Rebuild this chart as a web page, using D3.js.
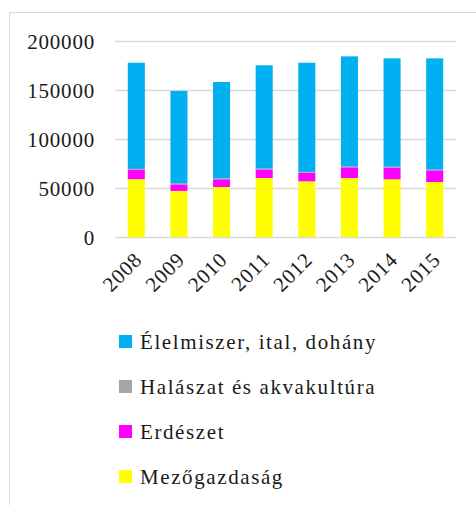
<!DOCTYPE html>
<html>
<head>
<meta charset="utf-8">
<script src="https://cdn.jsdelivr.net/npm/d3@7"></script>
<style>
  body { margin: 0; background: #fff; }
</style>
</head>
<body>
<div id="chart"></div>
<script>
// Data
var years = ["2008", "2009", "2010", "2011", "2012", "2013", "2014", "2015"];
var mezogazdasag = [59000, 47000, 51000, 60200, 56800, 60200, 58900, 56100];
var erdeszet = [9700, 6700, 7900, 8800, 8800, 10900, 12000, 11900];
var halaszat = [800, 800, 800, 800, 800, 800, 800, 800];
var elelmiszer = [108300, 94500, 98500, 105400, 111400, 112400, 110600, 113500];
var yTicks = [0, 50000, 100000, 150000, 200000];

var seriesNames = ["Mezőgazdaság", "Erdészet", "Halászat és akvakultúra", "Élelmiszer, ital, dohány"];
var seriesColors = ["#ffff00", "#ff00ff", "#a5a5a5", "#00b0f0"];
var seriesValues = [mezogazdasag, erdeszet, halaszat, elelmiszer];

var serif = "'Liberation Serif', 'DejaVu Serif', serif";

var svgWidth = 476;
var svgHeight = 505;

var svg = d3.select("#chart")
  .append("svg")
  .attr("width", svgWidth)
  .attr("height", svgHeight);

// Outer frame (only left and top edges are visible)
svg.append("rect")
  .attr("x", 9.5)
  .attr("y", 12.5)
  .attr("width", 600)
  .attr("height", 600)
  .attr("fill", "none")
  .attr("stroke", "#d9d9d9")
  .attr("stroke-width", 1);

// Build a table for the stack
var table = years.map(function(y, i) {
  var row = { year: y };
  seriesNames.forEach(function(name, j) { row[name] = seriesValues[j][i]; });
  return row;
});

var stacked = d3.stack().keys(seriesNames)(table);

var x = d3.scaleBand()
  .domain(years)
  .range([115, 456])
  .paddingInner(0.6)
  .paddingOuter(0.3);

var y = d3.scaleLinear()
  .domain([0, 200000])
  .range([237, 41]);

// Gridlines
svg.append("g")
  .selectAll("line")
  .data(yTicks)
  .enter()
  .append("line")
  .attr("x1", 115)
  .attr("x2", 456)
  .attr("y1", d => Math.round(y(d)) + 0.5)
  .attr("y2", d => Math.round(y(d)) + 0.5)
  .attr("stroke", "#d9d9d9")
  .attr("stroke-width", 1.5);

// Y-axis labels
var leftAxis = d3.axisLeft(y).tickValues(yTicks).tickSize(0).tickPadding(0).tickFormat(d3.format("d"));
var yAxis = svg.append("g")
  .attr("transform", "translate(95,0)")
  .call(leftAxis);
yAxis.attr("font-family", serif);
yAxis.select(".domain").remove();
yAxis.selectAll("text")
  .style("font-family", serif)
  .style("font-size", "21px")
  .style("letter-spacing", "0.8px")
  .attr("fill", "#1a1a1a")
  .attr("dy", "0.35em");

// Bars
svg.append("g")
  .selectAll("g")
  .data(stacked)
  .enter()
  .append("g")
  .attr("fill", (d, i) => seriesColors[i])
  .selectAll("rect")
  .data(d => d)
  .enter()
  .append("rect")
  .attr("x", d => x(d.data.year))
  .attr("width", x.bandwidth())
  .attr("y", d => y(d[1]))
  .attr("height", d => y(d[0]) - y(d[1]));

// X-axis labels
var bottomAxis = d3.axisBottom(x).tickSize(0).tickPadding(0);
var xAxis = svg.append("g")
  .attr("transform", "translate(0,237)")
  .call(bottomAxis);
xAxis.attr("font-family", serif);
xAxis.select(".domain").remove();
xAxis.selectAll("text")
  .style("font-family", serif)
  .style("font-size", "21px")
  .style("letter-spacing", "0.8px")
  .attr("fill", "#1a1a1a")
  .attr("text-anchor", "end")
  .attr("dy", "0")
  .attr("transform", "translate(7,24) rotate(-45)");

// Legend (reverse order: top series first)
var legendOrder = [3, 2, 1, 0];
var legend = svg.append("g")
  .selectAll("g")
  .data(legendOrder)
  .enter()
  .append("g")
  .attr("transform", (d, i) => `translate(119, ${342 + i * 45})`);

legend.append("rect")
  .attr("x", 0)
  .attr("y", -7)
  .attr("width", 13)
  .attr("height", 13)
  .attr("fill", d => seriesColors[d]);

legend.append("text")
  .attr("x", 21)
  .attr("y", 0)
  .attr("dy", "0.35em")
  .attr("fill", "#1a1a1a")
  .style("font-family", serif)
  .style("font-size", "21px")
  .style("letter-spacing", "1.6px")
  .text(d => seriesNames[d]);
</script>
</body>
</html>
